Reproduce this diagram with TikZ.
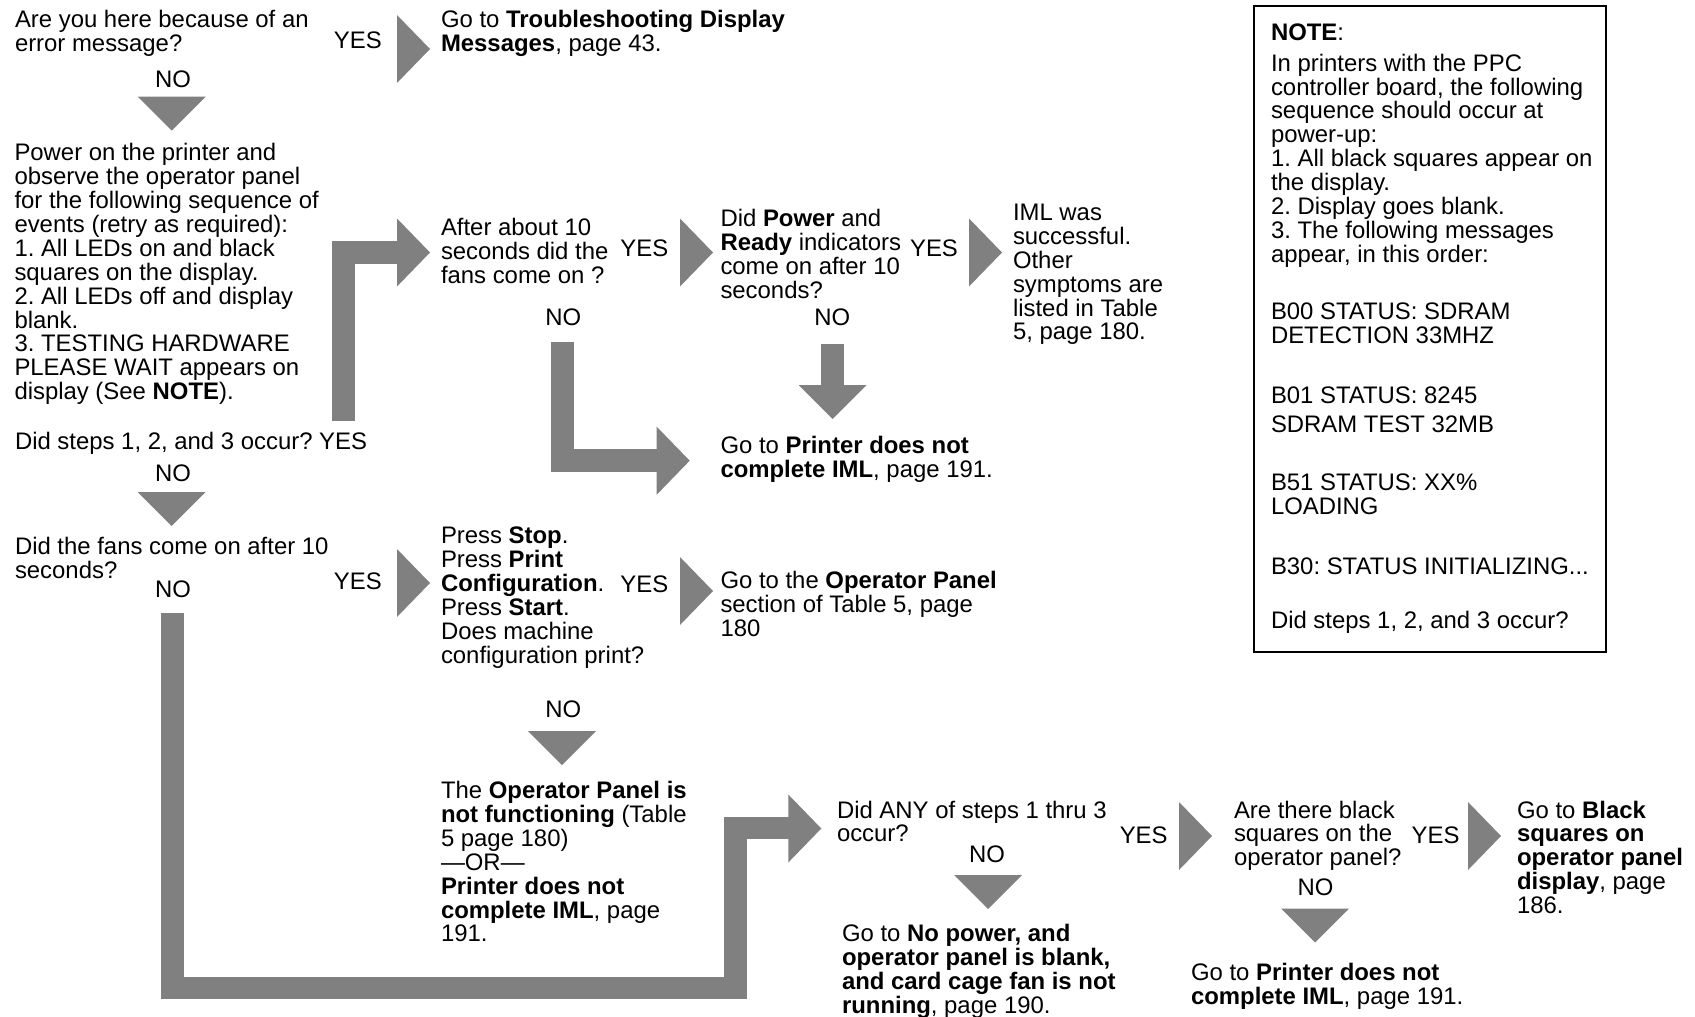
\documentclass[tikz,border=0pt]{standalone}
\usepackage{fontspec}
\setmainfont{Liberation Sans}
\definecolor{arrowgray}{RGB}{128,128,128}
\newcommand\diagfont{\fontsize{23.9pt}{23.9pt}\selectfont\frenchspacing}
\begin{document}
\frenchspacing
\begin{tikzpicture}[x=1pt,y=-1pt,
  txt/.style={font=\diagfont, inner sep=0pt, outer sep=0pt, text=black},
  blk/.style={txt, anchor=north west, align=left, yshift=-2.3pt},
  lbl/.style={txt, anchor=base},
  thickbar/.style={draw=arrowgray, line width=22.5pt, line join=miter, line cap=butt},
  rtri/.pic={\fill[arrowgray] (0,-34) -- (33,0) -- (0,34) -- cycle;},
  dtri/.pic={\fill[arrowgray] (-34,0) -- (34,0) -- (0,34) -- cycle;},
]
\fill[white] (0,0) rectangle (1695,1017);
\useasboundingbox (0,0) rectangle (1695,1017);

% --- left column
\node[blk] (q1) at (15,8.2) {Are you here because of an\\error message?};
\node[lbl] (y1) at (357.8,48.7) {YES};
\node[blk] (a1) at (441,8.2) {Go to \textbf{Troubleshooting Display}\\\textbf{Messages}, page 43.};
\node[lbl] (n1) at (173,87.5) {NO};
\node[blk] (q2) at (14.5,141.1) {Power on the printer and\\observe the operator panel\\for the following sequence of\\events (retry as required):\\1. All LEDs on and black\\squares on the display.\\2. All LEDs off and display\\blank.\\3. TESTING HARDWARE\\PLEASE WAIT appears on\\display (See \textbf{NOTE}).};
\node[txt, anchor=base west] (q3) at (15,449.3) {Did steps 1, 2, and 3 occur?};
\node[txt, anchor=base west] (y2) at ([xshift=6.6pt]q3.base east) {YES};
\node[lbl] (n2) at (173,481) {NO};
\node[blk] (q4) at (15,534.7) {Did the fans come on after 10\\seconds?};
\node[lbl] (y3) at (357.8,589.2) {YES};
\node[lbl] (n3) at (173,597.8) {NO};

% --- upper middle
\node[blk] (q5) at (441,215.7) {After about 10\\seconds did the\\fans come on ?};
\node[lbl] (y4) at (644.3,256.2) {YES};
\node[lbl] (n4) at (563.2,325.4) {NO};
\node[blk] (q6) at (720.5,207.1) {Did \textbf{Power} and\\\textbf{Ready} indicators\\come on after 10\\seconds?};
\node[lbl] (y5) at (934,256.2) {YES};
\node[lbl] (n5) at (832.4,325.4) {NO};
\node[blk] (a2) at (1013,201.7) {IML was\\successful.\\Other\\symptoms are\\listed in Table\\5, page 180.};
\node[blk] (a3) at (720.5,434.1) {Go to \textbf{Printer does not}\\\textbf{complete IML}, page 191.};

% --- lower middle
\node[blk] (q7) at (441,524.9) {Press \textbf{Stop}.\\Press \textbf{Print}\\\textbf{Configuration}.\\Press \textbf{Start}.\\Does machine\\configuration print?};
\node[lbl] (y6) at (644.3,592.4) {YES};
\node[blk] (a4) at (720.5,569.2) {Go to the \textbf{Operator Panel}\\section of Table 5, page\\180};
\node[lbl] (n6) at (563.2,717.8) {NO};
\node[blk] (a5) at (441,778.9) {The \textbf{Operator Panel is}\\\textbf{not functioning} (Table\\5 page 180)\\—OR—\\\textbf{Printer does not}\\\textbf{complete IML}, page\\191.};

% --- bottom row
\node[blk] (q8) at (837,798.4) {Did ANY of steps 1 thru 3\\occur?};
\node[lbl] (y7) at (1143.7,843) {YES};
\node[lbl] (n7) at (987,862.5) {NO};
\node[blk] (a6) at (842,921.7) {Go to \textbf{No power, and}\\\textbf{operator panel is blank,}\\\textbf{and card cage fan is not}\\\textbf{running}, page 190.};
\node[blk] (q9) at (1234,798.4) {Are there black\\squares on the\\operator panel?};
\node[lbl] (y8) at (1435.6,843) {YES};
\node[lbl] (n8) at (1315.6,895.5) {NO};
\node[blk] (a7) at (1191,960.5) {Go to \textbf{Printer does not}\\\textbf{complete IML}, page 191.};
\node[blk] (a8) at (1517,798.4) {Go to \textbf{Black}\\\textbf{squares on}\\\textbf{operator panel}\\\textbf{display}, page\\186.};

% --- NOTE box
\draw[line width=2pt] (1254,6) rectangle (1606,652);
\node[blk] (nt) at (1271,21.5) {\textbf{NOTE}:};
\node[blk] (nt1) at (1271,51.5) {In printers with the PPC\\controller board, the following\\sequence should occur at\\power-up:\\1. All black squares appear on\\the display.\\2. Display goes blank.\\3. The following messages\\appear, in this order:};
\node[blk] (nt2) at (1271,301) {B00 STATUS: SDRAM\\DETECTION 33MHZ};
\node[blk] (nt3) at (1271,384.3) {B01 STATUS: 8245};
\node[blk] (nt4) at (1271,413.5) {SDRAM TEST 32MB};
\node[blk] (nt5) at (1271,471.8) {B51 STATUS: XX\%\\LOADING};
\node[blk] (nt6) at (1271,555.1) {B30: STATUS INITIALIZING...};
\node[blk] (nt7) at (1271,609.1) {Did steps 1, 2, and 3 occur?};

% --- block arrows
\pic at (397,49) {rtri};
\pic at (171.7,96.7) {dtri};
\draw[thickbar] (343.5,421) -- (343.5,252.5) -- (398,252.5);
\pic at (397,252.5) {rtri};
\pic at (680,252.5) {rtri};
\pic at (969,252.5) {rtri};
\draw[thickbar] (562.5,342) -- (562.5,460.5) -- (657.5,460.5);
\pic at (656.7,460.7) {rtri};
\draw[thickbar] (832.5,344) -- (832.5,385.5);
\pic at (832.5,385) {dtri};
\pic at (171.7,492) {dtri};
\pic at (397,583) {rtri};
\pic at (680,591) {rtri};
\pic at (562,731) {dtri};
\draw[thickbar] (172.5,613) -- (172.5,988) -- (735.5,988) -- (735.5,828) -- (789,828);
\pic at (788.3,828.5) {rtri};
\pic at (1179,836) {rtri};
\pic at (1468,836) {rtri};
\pic at (988,875) {dtri};
\pic at (1315,908.5) {dtri};
\end{tikzpicture}
\end{document}
